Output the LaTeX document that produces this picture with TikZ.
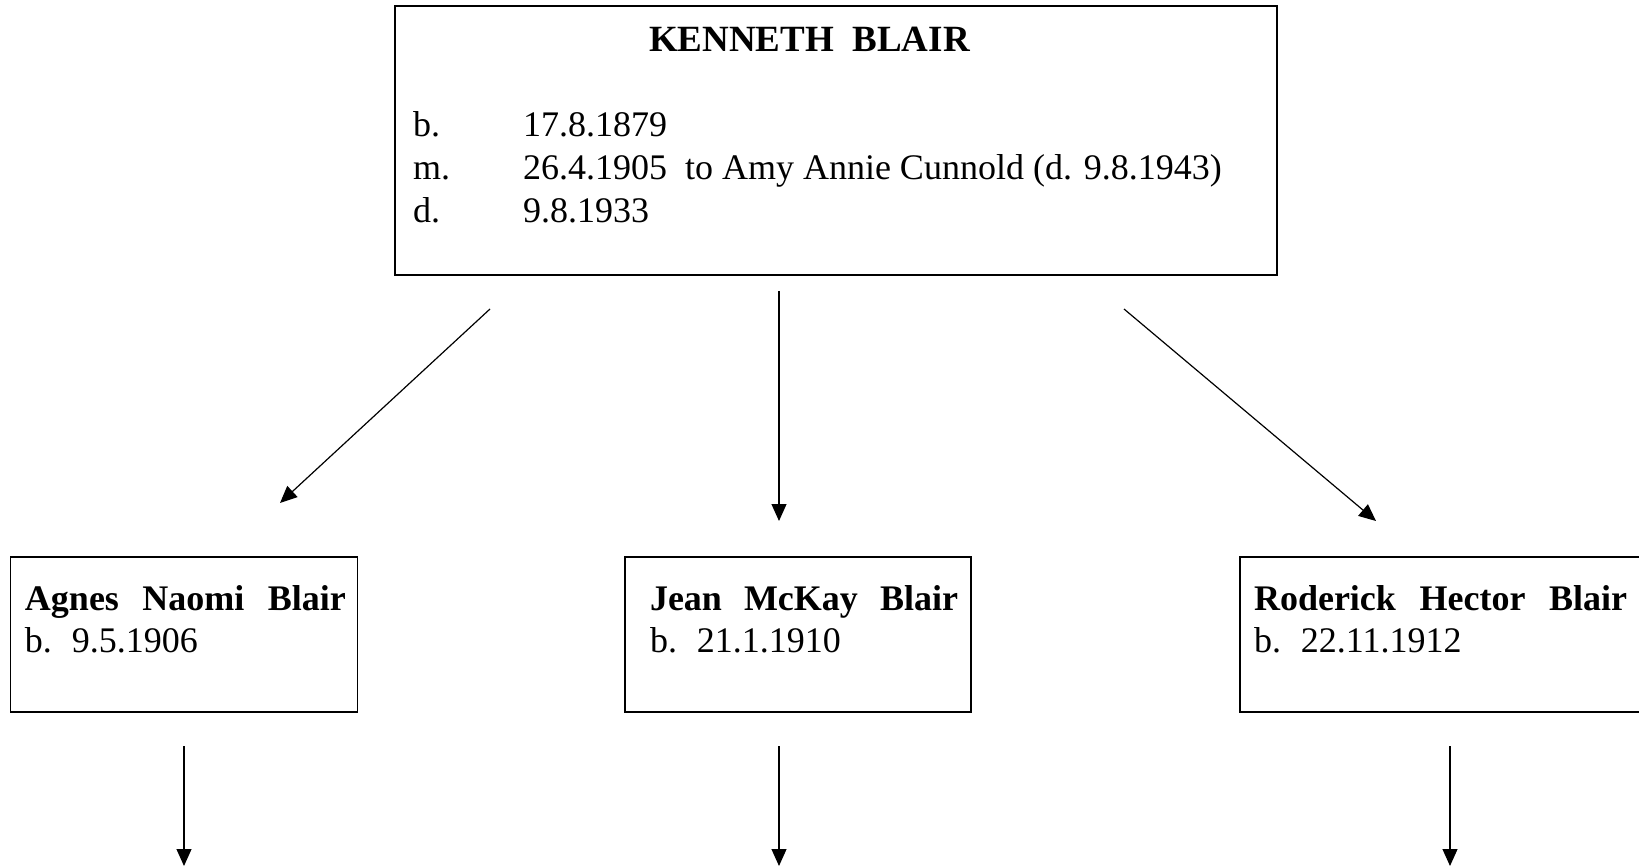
\documentclass[tikz,border=0pt]{standalone}
\usepackage{fontspec}
\setmainfont{Liberation Serif}
\usetikzlibrary{arrows.meta}
\begin{document}
\begin{tikzpicture}[x=0.5pt,y=-0.5pt,
  box/.style={draw,line width=0.9pt,rectangle,inner sep=0pt,outer sep=0pt},
  txt/.style={anchor=base west,inner sep=0pt,outer sep=0pt,font=\fontsize{18}{21.5}\selectfont},
  arr/.style={line width=0.6pt,-{Triangle[length=8.5pt,width=7.5pt]}}]
\useasboundingbox (0,0) rectangle (1639,866);
% boxes
\node[box,minimum width=441pt,minimum height=134.5pt] (top) at (836,140.5) {};
\node[box,minimum width=173.5pt,minimum height=77.5pt] (agnes) at (184,634.5) {};
\node[box,minimum width=173pt,minimum height=77.5pt] (jean) at (798,634.5) {};
\node[box,minimum width=215pt,minimum height=77.5pt] (rod) at (1455,634.5) {};
% top text
\node[txt,font=\fontsize{18.5}{21.5}\selectfont] (title) at (649,52) {\bfseries KENNETH\ \ BLAIR};
\node[txt] (lb) at (413,137) {b.};
\node[txt] (lm) at (413,180) {m.};
\node[txt] (ld) at (413,223) {d.};
\node[txt] (vb) at (523,137) {17.8.1879};
\node[txt] (vm) at (523,180) {26.4.1905\ \ to Amy Annie Cunnold (d. 9.8.1943)};
\node[txt] (vd) at (523,223) {9.8.1933};
% children text
\node[txt] (n1) at (25,610) {\makebox[160.5pt][s]{\bfseries Agnes Naomi Blair}};
\node[txt] (d1) at (25,652) {b.\hspace{10pt}9.5.1906};
\node[txt] (n2) at (650,610) {\makebox[154pt][s]{\bfseries Jean McKay Blair}};
\node[txt] (d2) at (650,652) {b.\hspace{10pt}21.1.1910};
\node[txt] (n3) at (1254,610) {\makebox[186.5pt][s]{\bfseries Roderick Hector Blair}};
\node[txt] (d3) at (1254,652) {b.\hspace{10pt}22.11.1912};
% arrow ends
\coordinate (s1) at (490,309);  \coordinate (e1) at (280,503);
\coordinate (s2) at (779,291);  \coordinate (e2) at (779,521);
\coordinate (s3) at (1124,309); \coordinate (e3) at (1376,521);
\coordinate (t1) at (184,746);  \coordinate (u1) at (184,866);
\coordinate (t2) at (779,746);  \coordinate (u2) at (779,866);
\coordinate (t3) at (1450,746); \coordinate (u3) at (1450,866);
\draw[arr] (s1) -- (e1);
\draw[arr] (s2) -- (e2);
\draw[arr] (s3) -- (e3);
\draw[arr] (t1) -- (u1);
\draw[arr] (t2) -- (u2);
\draw[arr] (t3) -- (u3);
\end{tikzpicture}
\end{document}
